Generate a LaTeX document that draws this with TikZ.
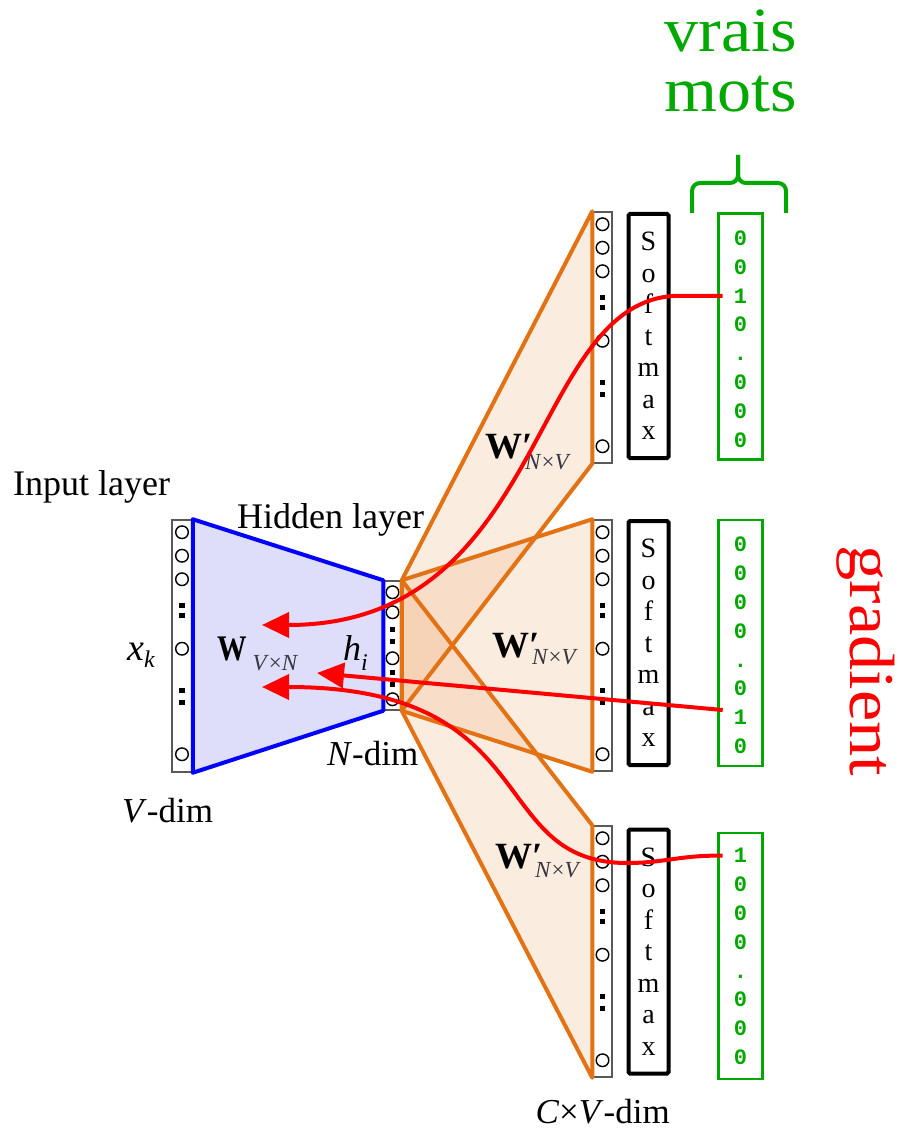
\documentclass[tikz,border=0pt]{standalone}
\usepackage{fontspec}
\usepackage{graphicx}
\setmainfont{Liberation Serif}
\newfontfamily\digitfont{Liberation Mono}
\usetikzlibrary{arrows.meta,calc}

\newcommand\fsz[1]{\fontsize{#1}{#1}\selectfont}
\newcommand\subtxt[2]{\raisebox{#1}{\fsz{23}\color{subgray}#2}}

\definecolor{wblue}{RGB}{0,0,255}
\definecolor{wbluefill}{RGB}{222,222,250}
\definecolor{worange}{RGB}{226,114,20}
\definecolor{worangefill}{RGB}{240,180,130}
\definecolor{wgreen}{RGB}{0,168,0}
\definecolor{subgray}{RGB}{55,55,65}

% rings and dot pairs of a tall neuron column
\newcommand\markcolumn[1]{%
  \foreach \dy in {13,36.5,60,129.5,235}
    \draw[ring] ($(#1.north)+(0,\dy)$) circle[radius=6.3pt];
  \foreach \dy in {86.5,96.5,171.5,183}
    \fill ($(#1.north)+(0,\dy)$) +(-2.6,-2.6) rectangle +(2.6,2.6);
}

\begin{document}
\begin{tikzpicture}[x=1pt,y=-1pt,
  ring/.style={draw=black,line width=1.4pt},
  column/.style={draw=black!65,line width=1.5pt,inner sep=0pt,
    minimum width=20pt,minimum height=252pt},
  softbox/.style={draw=black,line width=4pt,rounded corners=1.5pt,
    minimum width=40pt,minimum height=244pt,inner sep=0pt,align=center,
    font=\fontsize{28}{31.5}\selectfont},
  onehot/.style={draw=wgreen,line width=2.2pt,minimum width=44pt,
    minimum height=246pt,inner sep=0pt},
  digit/.style={anchor=base,text=wgreen,font=\digitfont\bfseries\fsz{22},
    inner xsep=11pt,inner ysep=0pt},
  label/.style={anchor=base west,inner sep=0pt,font=\fsz{36}},
  blueside/.style={draw=wblue,line width=4pt,line join=round},
  orangeside/.style={draw=worange,line width=4pt,line join=round},
  grad/.style={draw=red,line width=4pt,-{Triangle[length=27pt,width=25pt]}},
  brace/.style={draw=wgreen,line width=4pt,rounded corners=8pt}
]
\useasboundingbox (0,0) rectangle (901,1131);

% input, hidden and output neuron columns
\node[column] (inl) at (182,646) {};
\markcolumn{inl}
\node[column,minimum width=17pt,minimum height=129pt] (hid) at (392.5,645.5) {};
\foreach \dy in {12,32,78,119}
  \draw[ring] ($(hid.north)+(0,\dy)$) circle[radius=6.3pt];
\foreach \dy in {49,61,92,104}
  \fill ($(hid.north)+(0,\dy)$) +(-2.3,-2.3) rectangle +(2.3,2.3);
\node[column,minimum width=19pt,minimum height=251pt] (o1) at (602.5,337.5) {};
\node[column,minimum width=19pt,minimum height=251pt] (o2) at (602.5,645.5) {};
\node[column,minimum width=19pt,minimum height=251pt] (o3) at (602.5,951.5) {};
\markcolumn{o1}
\markcolumn{o2}
\markcolumn{o3}

% softmax blocks
\node[softbox] (s1) at (648.5,336) {S\\o\\f\\t\\m\\a\\x};
\node[softbox] (s2) at (648.5,643) {S\\o\\f\\t\\m\\a\\x};
\node[softbox] (s3) at (648.5,951.5) {S\\o\\f\\t\\m\\a\\x};

% one-hot target vectors
\node[onehot] (g1) at (740.5,336.5) {};
\node[onehot] (g2) at (740.5,643) {};
\node[onehot] (g3) at (740.5,956) {};
\foreach \d [count=\i from 0] in {0,0,1,0,{.},0,0,0}
  \node[digit] (g1d\i) at ($(g1.north)+(0,33+28.8*\i)$) {\d};
\foreach \d [count=\i from 0] in {0,0,0,0,{.},0,1,0}
  \node[digit] (g2d\i) at ($(g2.north)+(0,33+28.8*\i)$) {\d};
\foreach \d [count=\i from 0] in {1,0,0,0,{.},0,0,0}
  \node[digit] (g3d\i) at ($(g3.north)+(0,31+28.8*\i)$) {\d};

% input -> hidden weights
\filldraw[fill=wbluefill,blueside] (inl.north east) -- (hid.north west)
  -- (hid.south west) -- (inl.south east) -- cycle;

% hidden -> output weights
\foreach \o in {o1,o2,o3}
  \fill[worangefill,fill opacity=0.25] (hid.north east) -- (\o.north west)
    -- (\o.south west) -- (hid.south east) -- cycle;
\foreach \o in {o1,o2,o3}
  \draw[orangeside] (hid.north east) -- (\o.north west)
    -- (\o.south west) -- (hid.south east) -- cycle;

% labels
\node[label] (inlbl) at (13,495) {Input layer};
\node[label] (hidlbl) at (237,528) {Hidden layer};
\node[label,font=\fsz{38}] (xk) at (127,660) {\textit{x}\raisebox{-7pt}{\fsz{24}\itshape k}};
\node[label] (wvn) at (217,660) {\scalebox{0.82}[1]{\bfseries W}\hspace{6pt}\subtxt{-10pt}{\textit{V}×\textit{N}}};
\node[label] (hi) at (343,660) {\textit{h}\raisebox{-10pt}{\fsz{24}\itshape i}};
\node[label,font=\fsz{35}] (ndim) at (327,765) {\textit{N}-dim};
\node[label,font=\fsz{35}] (vdim) at (122,822) {\textit{V}-dim};
\node[label,font=\fsz{37}] (wp1) at (485,458) {\textbf{W}\rlap{\textbf{\char"2032}}\hspace{3pt}\subtxt{-11pt}{\textit{N}×\textit{V}}};
\node[label,font=\fsz{37}] (wp2) at (492,657) {\textbf{W}\rlap{\textbf{\char"2032}}\hspace{3pt}\subtxt{-7pt}{\textit{N}×\textit{V}}};
\node[label,font=\fsz{37}] (wp3) at (495,868) {\textbf{W}\rlap{\textbf{\char"2032}}\hspace{3pt}\subtxt{-9pt}{\textit{N}×\textit{V}}};
\node[anchor=base east,inner sep=0pt,font=\fsz{35}] (cvdim) at (670,1123) {\textit{C}×\textit{V}-dim};

% annotations
\node[anchor=base,inner sep=0pt,text=wgreen,font=\fsz{63}] (vrais) at (731,52) {\scalebox{1.08}[1]{vrais}};
\node[anchor=base,inner sep=0pt,text=wgreen,font=\fsz{63}] (mots) at (731,112) {\scalebox{1.08}[1]{mots}};
\draw[brace] (692,213) -- (692,183) -- (738,183) -- (738,155);
\draw[brace] (738,155) -- (738,183) -- (786,183) -- (786,213);
\node[rotate=-90,anchor=base,inner sep=0pt,text=red,font=\fsz{64}] (gradlbl) at (850,661) {\scalebox{1.1}[1]{gradient}};

% gradient paths back into the input weights
\coordinate (t1) at (262,625);
\coordinate (t2) at (317,673);
\coordinate (t3) at (262,687);
\draw[grad] (g1d2.west) -- ++(-43,0) .. controls (528,296) and (550,625) .. (t1);
\draw[grad] (g2d6.north west) -- (t2);
\draw[grad] (g3d0.west) .. controls (680,855) and (665,863) .. (627,863)
  .. controls (485,863) and (546,687) .. (t3);
\end{tikzpicture}
\end{document}
